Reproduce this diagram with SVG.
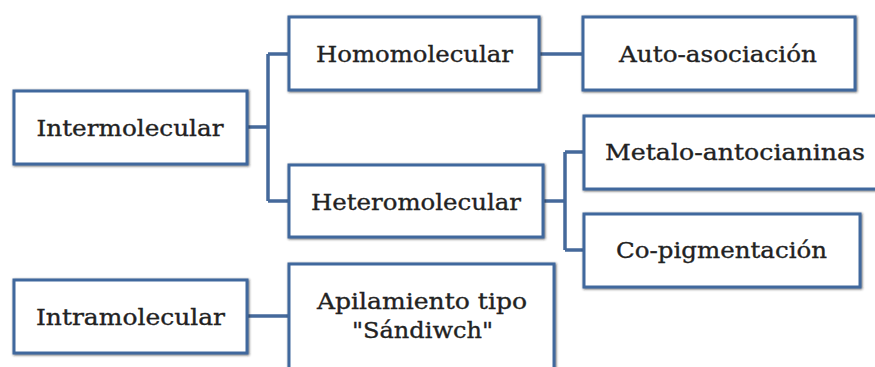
<svg xmlns="http://www.w3.org/2000/svg" width="875" height="367" viewBox="0 0 875 367">
<defs>
<filter id="sh" x="-5%" y="-10%" width="110%" height="120%">
<feDropShadow dx="0.8" dy="0.8" stdDeviation="1" flood-color="#222" flood-opacity="0.7"/>
</filter>
</defs>
<style>
.box{fill:#fff;stroke:#41689d;stroke-width:3;filter:url(#sh)}
.lbl{font-family:"DejaVu Serif","Liberation Serif",serif;font-size:22.5px;fill:#222;stroke:#222;stroke-width:0.35;text-anchor:middle}
.con{fill:none;stroke:#45699b;stroke-width:3.5}
</style>
<rect width="875" height="367" fill="#fff"/>
<g id="connectors">
<path class="con" d="M247,127 H268 M268,54 V201 M268,54 H289 M268,201 H289"/>
<path class="con" d="M539,54 H583"/>
<path class="con" d="M543,201 H565 M565,152 V250 M565,152 H584 M565,250 H584"/>
<path class="con" d="M247,316 H289"/>
</g>
<g id="intermolecular">
<rect class="box" x="14" y="91" width="233" height="73"/>
<text class="lbl" x="130" y="136" textLength="187" lengthAdjust="spacingAndGlyphs">Intermolecular</text>
</g>
<g id="homomolecular">
<rect class="box" x="289" y="17" width="250" height="73"/>
<text class="lbl" x="414.5" y="62" textLength="197" lengthAdjust="spacingAndGlyphs">Homomolecular</text>
</g>
<g id="auto-asociacion">
<rect class="box" x="583" y="17" width="272" height="73"/>
<text class="lbl" x="718" y="62" textLength="198" lengthAdjust="spacingAndGlyphs">Auto-asociación</text>
</g>
<g id="heteromolecular">
<rect class="box" x="289" y="165" width="254" height="72"/>
<text class="lbl" x="416" y="210" textLength="210" lengthAdjust="spacingAndGlyphs">Heteromolecular</text>
</g>
<g id="metalo-antocianinas">
<rect class="box" x="584" y="116" width="300" height="73"/>
<text class="lbl" x="735" y="160" textLength="260" lengthAdjust="spacingAndGlyphs">Metalo-antocianinas</text>
</g>
<g id="co-pigmentacion">
<rect class="box" x="584" y="214" width="276" height="73"/>
<text class="lbl" x="721.5" y="258" textLength="211" lengthAdjust="spacingAndGlyphs">Co-pigmentación</text>
</g>
<g id="intramolecular">
<rect class="box" x="14" y="280" width="233" height="73"/>
<text class="lbl" x="130.5" y="325" textLength="189" lengthAdjust="spacingAndGlyphs">Intramolecular</text>
</g>
<g id="apilamiento">
<rect class="box" x="289" y="264" width="265" height="120"/>
<text class="lbl" x="422" y="309" textLength="210" lengthAdjust="spacingAndGlyphs">Apilamiento tipo</text>
<text class="lbl" x="422.5" y="338" textLength="141" lengthAdjust="spacingAndGlyphs">"Sándiwch"</text>
</g>
</svg>
